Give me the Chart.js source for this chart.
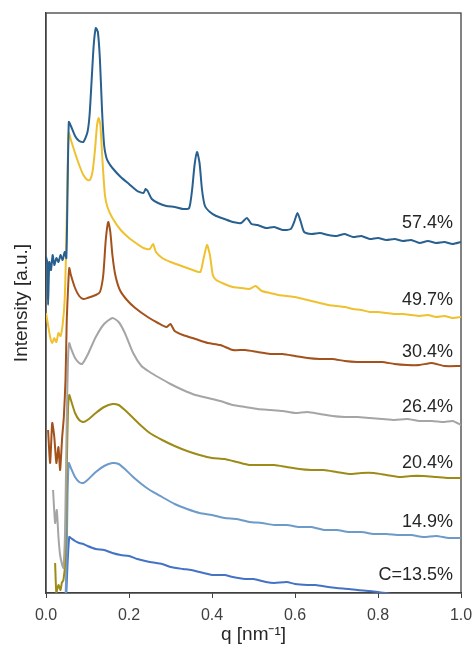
<!DOCTYPE html>
<html>
<head>
<meta charset="utf-8">
<script src="https://cdn.jsdelivr.net/npm/chart.js@4.4.1/dist/chart.umd.min.js"></script>
<style>
  body { margin: 0; background: #fff; }
</style>
</head>
<body>
<canvas id="myChart" width="473" height="646"></canvas>
<script>
// concentration labels, top curve first
const concLabels = ["57.4%", "49.7%", "30.4%", "26.4%", "20.4%", "14.9%", "C=13.5%"];
const lineColors = ["#28608f", "#efc12e", "#a3521c", "#a5a5a5", "#9c8b17", "#6c9ac9", "#4472c4"];

// q [nm-1] and intensity (a.u., curves stacked with offsets)
const q57 = [0, .003, .005, .008, .012, .016, .02, .025, .03, .035, .04, .045, .049, .052, .055, .06, .07, .08, .09, .1, .105, .11, .115, .12, .125, .13, .135, .14, .145, .15, .16, .18, .2, .22, .235, .24, .245, .255, .27, .29, .31, .33, .345, .352, .358, .364, .37, .376, .383, .395, .41, .43, .45, .47, .484, .495, .51, .53, .55, .57, .59, .598, .606, .614, .622, .64, .66, .68, .7, .72, .74, .76, .78, .8, .82, .84, .86, .88, .9, .92, .94, .96, .98, 1];
const i57 = [336, 331, 288, 331, 323, 338, 328, 335, 331, 338, 333, 341, 335, 403, 471, 467, 457, 452, 451, 461, 478, 513, 548, 565, 561, 533, 483, 448, 436, 431, 425, 416, 409, 402, 400, 404, 402, 394, 390, 387, 386, 384, 385, 403, 428, 441, 430, 403, 387, 381, 377, 374, 371, 370, 375, 369, 368, 365, 366, 363, 364, 371, 380, 371, 361, 359, 360, 358, 357, 359, 356, 357, 354, 355, 353, 354, 352, 353, 350, 352, 350, 351, 349, 351];

const q49 = [0, .005, .01, .015, .02, .025, .03, .035, .04, .045, .049, .052, .055, .06, .07, .08, .09, .1, .106, .112, .118, .123, .127, .131, .136, .142, .148, .16, .18, .2, .22, .235, .25, .258, .265, .28, .3, .32, .34, .36, .372, .38, .388, .395, .402, .41, .43, .45, .47, .49, .505, .52, .54, .56, .58, .6, .62, .64, .66, .68, .7, .72, .74, .76, .78, .8, .82, .84, .86, .88, .9, .92, .94, .96, .98, 1];
const i49 = [280, 268, 256, 250, 255, 251, 260, 257, 268, 293, 353, 423, 460, 453, 440, 428, 418, 413, 413, 421, 443, 468, 475, 468, 433, 398, 386, 375, 363, 355, 349, 345, 344, 349, 341, 335, 331, 328, 325, 322, 321, 335, 348, 338, 318, 313, 309, 306, 305, 304, 307, 302, 300, 298, 297, 296, 294, 292, 290, 288, 287, 286, 284, 283, 281, 281, 280, 279, 279, 278, 277, 278, 276, 277, 275, 276];

const q30 = [.005, .01, .015, .02, .025, .03, .034, .039, .043, .047, .05, .053, .056, .06, .07, .08, .09, .1, .12, .13, .138, .144, .15, .155, .16, .167, .178, .195, .215, .245, .27, .29, .3, .31, .33, .36, .39, .42, .45, .48, .51, .54, .57, .6, .63, .66, .69, .72, .75, .78, .81, .84, .87, .9, .93, .96, 1];
const i30 = [163, 130, 170, 156, 130, 146, 123, 156, 176, 213, 273, 303, 325, 318, 305, 297, 294, 295, 298, 301, 318, 353, 371, 361, 338, 318, 303, 293, 285, 276, 270, 266, 269, 262, 258, 254, 250, 248, 243, 243, 241, 239, 239, 237, 235, 234, 234, 232, 231, 231, 231, 229, 228, 228, 230, 227, 227];

const q26 = [.017, .022, .026, .03, .034, .039, .042, .046, .05, .053, .056, .06, .07, .08, .087, .1, .12, .14, .16, .175, .19, .21, .23, .25, .27, .3, .33, .36, .39, .42, .45, .48, .51, .54, .57, .6, .63, .66, .69, .72, .75, .78, .81, .84, .87, .9, .93, .96, .98, 1];
const i26 = [103, 70, 83, 56, 38, 28, 25, 63, 173, 233, 250, 245, 235, 230, 229, 238, 256, 269, 275, 271, 260, 240, 227, 221, 216, 209, 203, 198, 195, 192, 188, 186, 184, 183, 182, 180, 181, 179, 177, 176, 176, 175, 174, 173, 174, 172, 172, 171, 172, 168];

const q20 = [.022, .025, .03, .035, .038, .042, .046, .05, .053, .056, .06, .07, .08, .09, .1, .12, .14, .16, .175, .19, .21, .23, .25, .28, .31, .34, .37, .4, .43, .46, .49, .52, .55, .58, .61, .64, .67, .7, .73, .76, .79, .82, .85, .88, .91, .94, .97, 1];
const i20 = [30, 0, 8, 3, 10, 13, 30, 123, 183, 198, 193, 180, 173, 171, 173, 180, 186, 189, 188, 183, 175, 167, 160, 153, 147, 142, 138, 135, 134, 131, 128, 128, 128, 126, 124, 123, 123, 121, 119, 120, 120, 118, 116, 117, 117, 116, 115, 115];

const q14 = [.047, .05, .052, .055, .06, .07, .08, .09, .1, .12, .14, .16, .175, .19, .21, .23, .25, .28, .31, .34, .37, .4, .43, .46, .49, .52, .55, .58, .61, .64, .67, .7, .73, .76, .79, .82, .85, .88, .91, .94, .97, 1];
const i14 = [-7, 40, 100, 130, 125, 116, 111, 110, 113, 121, 127, 130, 129, 124, 116, 109, 103, 96, 89, 84, 80, 78, 75, 74, 71, 70, 68, 68, 66, 66, 63, 63, 61, 61, 59, 59, 58, 58, 56, 57, 55, 55];

const q13 = [.048, .052, .056, .06, .07, .08, .09, .1, .12, .14, .16, .18, .2, .22, .25, .28, .3, .33, .35, .38, .4, .43, .45, .48, .5, .53, .55, .58, .6, .63, .65, .68, .7, .73, .75, .78, .8, .85, .9, 1];
const i13 = [-10, 30, 56, 55, 52, 50, 49, 47, 44, 43, 40, 38, 37, 34, 31, 29, 26, 24, 23, 20, 18, 18, 16, 14, 14, 11, 10, 11, 9, 8, 8, 6, 5, 4, 3, 2, 1, -2, -4, -7];

// where each concentration label sits (y in a.u.)
const labelY = [370, 293, 241, 186, 130, 71, 18];

const qSets = [q57, q49, q30, q26, q20, q14, q13];
const iSets = [i57, i49, i30, i26, i20, i14, i13];

const fontFamily = "'Liberation Sans', Arial, sans-serif";

// frame around the plot area + the concentration labels
const framePlugin = {
    id: "frame",
    beforeDatasetsDraw(chart) {
        const {ctx, chartArea: a} = chart;
        ctx.save();
        ctx.strokeStyle = "#404040";
        ctx.lineWidth = 1.3;
        ctx.strokeRect(a.left, a.top, a.right - a.left, a.bottom - a.top);
        ctx.restore();
    },
    afterDraw(chart) {
        const {ctx, chartArea: a} = chart;
        const yScale = chart.scales.y;
        ctx.save();
        ctx.font = "18px " + fontFamily;
        ctx.fillStyle = "#262626";
        ctx.textAlign = "right";
        ctx.textBaseline = "middle";
        concLabels.forEach((txt, k) => {
            ctx.fillText(txt, a.right - 8, yScale.getPixelForValue(labelY[k]));
        });
        ctx.restore();
    }
};

const ctx = document.getElementById("myChart").getContext("2d");
const chart = new Chart(ctx, {
    type: "line",
    data: {
        datasets: concLabels.map((name, k) => ({
            label: name,
            data: qSets[k].map((q, j) => ({x: q, y: iSets[k][j]})),
            borderColor: lineColors[k],
            backgroundColor: lineColors[k],
            borderWidth: 2,
            pointRadius: 0,
            tension: 0.2,
            fill: false
        }))
    },
    options: {
        responsive: false,
        animation: false,
        layout: { padding: { top: 13, right: 0, left: 0, bottom: 0 } },
        scales: {
            x: {
                type: "linear",
                min: 0,
                max: 1,
                afterFit: (scale) => {
                    scale.height = 53;
                    scale.paddingRight = 12;
                    scale.paddingLeft = 0;
                },
                ticks: {
                    stepSize: 0.2,
                    padding: 8,
                    color: "#404040",
                    font: { size: 16, family: fontFamily },
                    callback: (v) => v.toFixed(1)
                },
                grid: {
                    drawOnChartArea: false,
                    drawTicks: true,
                    tickLength: 5,
                    color: "#404040"
                },
                border: { color: "#404040", width: 1.3 },
                title: {
                    display: true,
                    text: "q [nm\u207B\u00B9]",
                    color: "#262626",
                    font: { size: 19, family: fontFamily },
                    padding: { top: 0, bottom: 0 }
                }
            },
            y: {
                type: "linear",
                min: 0,
                max: 580,
                afterFit: (scale) => { scale.width = 46; },
                ticks: { display: false },
                grid: { display: false },
                border: { display: true, color: "#404040", width: 1.3 },
                title: {
                    display: true,
                    text: "Intensity [a.u.]",
                    color: "#262626",
                    font: { size: 19, family: fontFamily },
                    padding: { top: 10, bottom: 0 }
                }
            }
        },
        plugins: {
            legend: { display: false },
            tooltip: { enabled: false }
        }
    },
    plugins: [framePlugin]
});
</script>
</body>
</html>
